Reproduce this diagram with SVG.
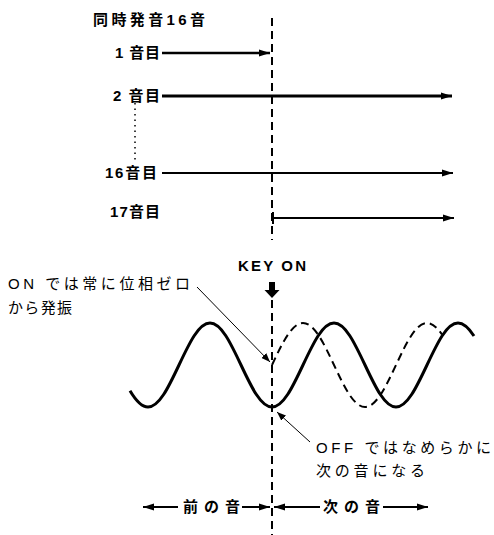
<svg xmlns="http://www.w3.org/2000/svg" width="494" height="535" viewBox="0 0 494 535">
<style>
.t{font-family:"Liberation Sans","Noto Sans CJK JP",sans-serif;font-size:15px;fill:#000}
.b{font-weight:bold}
.ln{stroke:#000;fill:none}
.vd{stroke:#000;stroke-width:2;stroke-dasharray:8 5;fill:none}
</style>
<defs>
<marker id="ah" markerUnits="userSpaceOnUse" markerWidth="11" markerHeight="8" refX="11" refY="4" orient="auto">
<path d="M0,0.5 L11,4 L0,7.5 z" fill="#000"/>
</marker>
<marker id="ahs" markerUnits="userSpaceOnUse" markerWidth="9" markerHeight="7" refX="9" refY="3.5" orient="auto">
<path d="M0,0 L9,3.5 L0,7 z" fill="#000"/>
</marker>
</defs>
<rect width="494" height="535" fill="#fff"/>

<g id="timeline">
<path class="vd" d="M272,18 V240"/>
<path class="vd" d="M272,300 V535"/>
</g>

<g id="title"><text class="t b" x="93" y="25" textLength="112" lengthAdjust="spacing">同時発音16音</text></g>
<g id="voice1"><text class="t b" x="115" y="58" textLength="45" lengthAdjust="spacing">1 音目</text></g>
<g id="voice2"><text class="t b" x="113" y="101" textLength="47" lengthAdjust="spacing">2 音目</text></g>
<g id="voice16"><text class="t b" x="105" y="178" textLength="52" lengthAdjust="spacing">16音目</text></g>
<g id="voice17"><text class="t b" x="110" y="217" textLength="50" lengthAdjust="spacing">17音目</text></g>

<g id="keyon">
<text class="t b" x="238" y="271" textLength="68" lengthAdjust="spacing">KEY ON</text>
<path d="M269,282 H275 V290 H279.5 L272,298 L264.5,290 H269 z" fill="#000"/>
</g>

<g id="note-on">
<text class="t" x="8" y="289" textLength="182" lengthAdjust="spacing">ON では常に位相ゼロ</text>
<text class="t" x="8" y="313" textLength="64" lengthAdjust="spacing">から発振</text>
</g>
<g id="note-off">
<text class="t" x="316" y="453" textLength="175" lengthAdjust="spacing">OFF ではなめらかに</text>
<text class="t" x="316" y="476" textLength="109" lengthAdjust="spacing">次の音になる</text>
</g>

<g id="waves">
<path class="ln" stroke-width="3" d="M130,390.7 C136,400.8 142,407 148,407 c11.16,0 20.64,-19.95 31,-42 c10.36,-22.05 19.84,-42 31,-42 c11.16,0 20.64,19.950 31,42 c10.36,22.05 19.84,42 31,42 c11.16,0 20.64,-19.95 31,-42 c10.36,-22.05 19.84,-42 31,-42 c11.16,0 20.64,19.95 31,42 c10.36,22.05 19.84,42 31,42 c11.16,0 20.64,-19.95 31,-42 c10.36,-22.05 19.84,-42 31,-42 c5.3,0 10.7,4.84 16,13"/>
<path class="ln" stroke-width="2" stroke-dasharray="8 5" d="M272,365 c10.36,-22.05 19.84,-42 31,-42 c11.16,0 20.64,19.95 31,42 c10.36,22.05 19.84,42 31,42 c11.16,0 20.64,-19.95 31,-42 c10.36,-22.05 19.84,-42 31,-42 c5,0 10,4.15 15,11.5"/>
</g>

<g id="connectors">
<line class="ln" stroke-width="2.5" x1="162" y1="53" x2="270" y2="53" marker-end="url(#ah)"/>
<line class="ln" stroke-width="3" x1="162" y1="96" x2="452" y2="96" marker-end="url(#ah)"/>
<line class="ln" stroke-width="2" x1="162" y1="173" x2="453" y2="173" marker-end="url(#ah)"/>
<line class="ln" stroke-width="2" x1="273" y1="218" x2="454" y2="218" marker-end="url(#ah)"/>
<line class="ln" stroke-width="2" x1="273" y1="212" x2="273" y2="224"/>
<line class="ln" stroke-width="1.5" stroke-dasharray="1.5 4" x1="135" y1="103" x2="135" y2="160"/>
<line class="ln" stroke-width="1" x1="197" y1="287" x2="270" y2="362" marker-end="url(#ahs)"/>
<line class="ln" stroke-width="1" x1="310" y1="442" x2="277" y2="412" marker-end="url(#ahs)"/>
<line class="ln" stroke-width="2" x1="178" y1="507" x2="143" y2="507" marker-end="url(#ah)"/>
<line class="ln" stroke-width="2" x1="242" y1="507" x2="270" y2="507" marker-end="url(#ah)"/>
<line class="ln" stroke-width="2" x1="320" y1="507" x2="274" y2="507" marker-end="url(#ah)"/>
<line class="ln" stroke-width="2" x1="383" y1="507" x2="428" y2="507" marker-end="url(#ah)"/>
</g>

<g id="span-labels">
<text class="t b" x="183" y="512" textLength="57" lengthAdjust="spacing">前の音</text>
<text class="t b" x="323" y="512" textLength="57" lengthAdjust="spacing">次の音</text>
</g>
</svg>
